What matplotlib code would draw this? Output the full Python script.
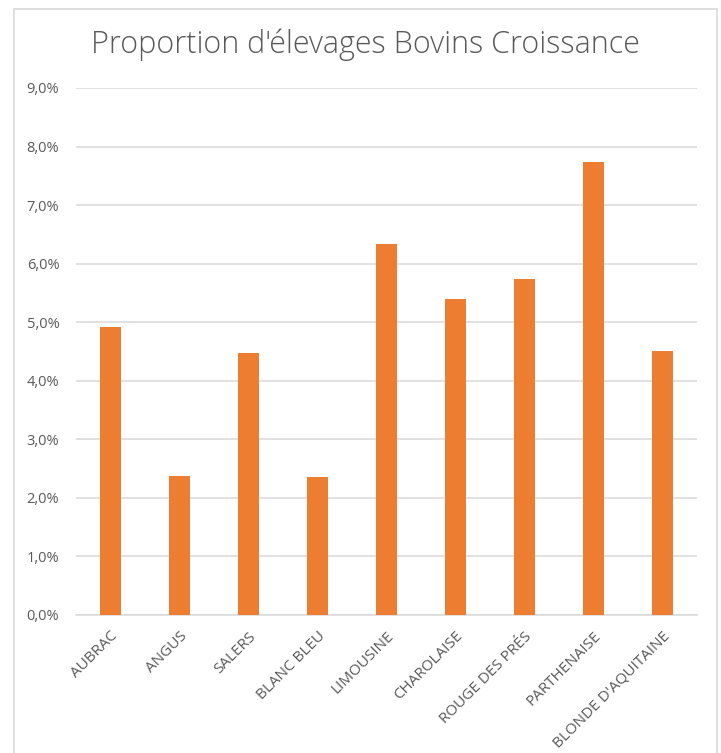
import matplotlib.pyplot as plt
from matplotlib.patches import Rectangle
from matplotlib.ticker import FuncFormatter

races = ["AUBRAC", "ANGUS", "SALERS", "BLANC BLEU", "LIMOUSINE",
         "CHAROLAISE", "ROUGE DES PRÉS", "PARTHENAISE", "BLONDE D'AQUITAINE"]
proportions = [4.92, 2.38, 4.48, 2.36, 6.33, 5.40, 5.74, 7.73, 4.50]
yticks = [0, 1, 2, 3, 4, 5, 6, 7, 8, 9]

plt.rcParams['font.family'] = ['Open Sans', 'DejaVu Sans']

fig = plt.figure(figsize=(7.21, 7.53), dpi=100)
ax = fig.add_axes([76 / 721, 138 / 753, 621 / 721, 527 / 753])

# cadre du graphique
fig.patches.append(Rectangle((14 / 721, -0.05), 703 / 721, (753 - 9.5) / 753 + 0.05,
                             transform=fig.transFigure, fill=False,
                             edgecolor="#D9D9D9", linewidth=1.2))

ax.bar(races, proportions, width=0.31, color="#ED7D31", zorder=3)

ax.set_ylim(0, 9)
ax.set_xlim(-0.5, len(races) - 0.5)
ax.set_yticks(yticks)
ax.yaxis.set_major_formatter(FuncFormatter(lambda v, p: f"{v:.1f}%".replace(".", ",")))
ax.grid(axis="y", color="#D9D9D9", linewidth=1.1, zorder=0)

for s in ["top", "right", "left"]:
    ax.spines[s].set_visible(False)
ax.spines["bottom"].set_color("#D9D9D9")
ax.spines["bottom"].set_linewidth(1.1)

ax.tick_params(axis="both", length=0, colors="#595959", labelsize=10.5)
ax.tick_params(axis="y", pad=12)
ax.tick_params(axis="x", pad=10, labelsize=11)
plt.setp(ax.get_xticklabels(), rotation=45, ha="right", rotation_mode="anchor")

fig.text(0.507, 0.94, "Proportion d'élevages Bovins Croissance",
         ha="center", va="center", fontsize=22, color="#595959",
         fontweight="light")

fig.savefig("out.png", dpi=100)
